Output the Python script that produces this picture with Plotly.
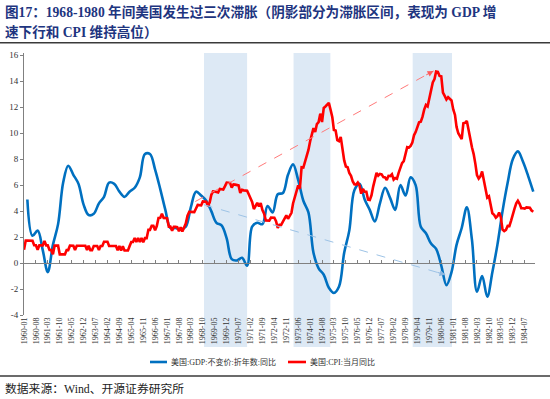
import plotly.graph_objects as go
import pandas as pd

# ---------------- data ----------------
# US CPI, month-on-year-ago (%), 1960-01 .. 1984-12
cpi_1960s = [
    1.03, 1.73, 1.73, 1.72, 1.72, 1.72, 1.37, 1.37, 1.02, 1.36, 1.36, 1.36,   # 1960
    1.71, 1.36, 1.36, 1.01, 1.01, 0.67, 1.34, 1.34, 1.34, 0.67, 0.67, 0.67,   # 1961
    0.67, 1.00, 1.00, 1.34, 1.33, 1.33, 1.00, 1.33, 1.33, 1.33, 1.33, 1.33,   # 1962
    1.33, 1.00, 1.33, 0.99, 0.99, 1.32, 1.32, 1.32, 1.00, 1.32, 1.32, 1.64,   # 1963
    1.64, 1.64, 1.31, 1.31, 1.31, 1.31, 1.31, 0.98, 1.31, 0.97, 1.29, 0.97,   # 1964
    0.97, 0.97, 1.29, 1.62, 1.62, 1.94, 1.62, 1.94, 1.62, 1.93, 1.61, 1.92,   # 1965
    1.92, 2.56, 2.56, 2.87, 2.87, 2.53, 2.85, 3.48, 3.49, 3.79, 3.48, 3.46,   # 1966
    3.46, 2.81, 2.81, 2.49, 2.79, 2.79, 2.77, 2.45, 2.75, 2.43, 2.74, 3.04,   # 1967
    3.65, 3.95, 3.94, 3.93, 3.92, 4.20, 4.48, 4.46, 4.45, 4.75, 4.74, 4.72,   # 1968
    4.40, 4.68, 5.25, 5.52, 5.51, 5.48, 5.44, 5.71, 5.70, 5.67, 5.93, 6.20,   # 1969
]
cpi_1970s = [
    6.18, 6.15, 5.82, 6.06, 6.04, 6.01, 5.98, 5.41, 5.64, 5.60, 5.57, 5.57,   # 1970
    5.28, 5.00, 4.71, 4.16, 4.40, 4.64, 4.36, 4.62, 4.08, 3.81, 3.28, 3.27,   # 1971
    3.27, 3.51, 3.50, 3.49, 3.23, 2.71, 2.95, 2.94, 3.19, 3.42, 3.67, 3.41,   # 1972
    3.65, 3.87, 4.59, 5.06, 5.53, 5.99, 5.73, 7.38, 7.36, 7.80, 8.25, 8.71,   # 1973
    9.39, 10.02, 10.39, 10.09, 10.71, 10.86, 11.51, 10.86, 11.95, 12.06, 12.20, 12.34,  # 1974
    11.80, 11.23, 10.25, 10.21, 9.47, 9.39, 9.72, 8.60, 7.91, 7.44, 7.38, 6.94,  # 1975
    6.72, 6.29, 6.07, 6.05, 6.20, 5.97, 5.35, 5.71, 5.50, 5.49, 4.88, 4.86,   # 1976
    5.22, 5.91, 6.44, 6.95, 6.73, 6.87, 6.83, 6.62, 6.60, 6.39, 6.72, 6.70,   # 1977
    6.84, 6.43, 6.55, 6.50, 6.95, 7.41, 7.70, 7.85, 8.31, 8.93, 8.89, 9.02,   # 1978
    9.28, 9.86, 10.09, 10.49, 10.85, 10.89, 11.26, 11.82, 12.18, 12.07, 12.61, 13.29,  # 1979
]
cpi_1980s = [
    13.91, 14.18, 14.76, 14.73, 14.41, 14.38, 13.13, 12.87, 12.60, 12.77, 12.65, 12.52,  # 1980
    11.83, 11.41, 10.49, 10.00, 9.78, 9.55, 10.76, 10.80, 10.95, 10.14, 9.59, 8.92,  # 1981
    8.39, 7.62, 6.78, 6.51, 6.68, 7.06, 6.44, 5.85, 5.04, 5.14, 4.59, 3.83,   # 1982
    3.71, 3.49, 3.60, 3.90, 3.55, 2.58, 2.46, 2.56, 2.86, 2.85, 3.27, 3.79,   # 1983
    4.19, 4.60, 4.80, 4.56, 4.23, 4.22, 4.20, 4.29, 4.27, 4.26, 4.05, 3.95,   # 1984
]
cpi_values = cpi_1960s + cpi_1970s + cpi_1980s

# US real GDP (constant prices, SAAR), y/y (%), quarterly 1960Q1 .. 1984Q4
gdp_values = [
    4.9, 2.1, 2.5, 1.0,      # 1960
    -0.7, 1.4, 3.0, 6.2,     # 1961
    7.5, 6.8, 6.1, 4.5,      # 1962
    3.7, 3.8, 4.6, 5.1,      # 1963
    6.2, 6.1, 5.5, 5.1,      # 1964
    5.5, 5.8, 6.6, 8.4,      # 1965
    8.4, 7.2, 5.7, 4.1,      # 1966
    2.7, 2.7, 2.6, 2.8,      # 1967
    4.3, 5.5, 5.2, 4.8,      # 1968
    4.0, 3.1, 2.9, 1.9,      # 1969
    0.3, 0.2, 0.4, -0.2,     # 1970
    2.8, 3.1, 3.0, 4.4,      # 1971
    3.9, 5.3, 5.4, 6.8,      # 1972
    7.6, 6.4, 4.8, 3.9,      # 1973
    0.8, -0.4, -0.9, -1.9,   # 1974
    -2.3, -1.8, 0.8, 2.5,    # 1975
    5.6, 6.1, 4.9, 4.1,      # 1976
    3.2, 4.6, 5.8, 5.0,      # 1977
    4.1, 6.0, 5.2, 6.6,      # 1978
    6.0, 2.8, 2.3, 1.5,      # 1979
    1.1, -0.2, -1.7, -0.7,   # 1980
    1.4, 2.7, 4.3, 1.8,      # 1981
    -2.2, -1.0, -2.6, -0.7,  # 1982
    1.4, 4.0, 6.2, 8.0,      # 1983
    8.6, 7.8, 6.7, 5.5,      # 1984
]

cpi_dates = pd.date_range("1960-01-01", periods=len(cpi_values), freq="MS")
gdp_dates = pd.date_range("1960-03-01", periods=len(gdp_values), freq="3MS")
tick_dates = pd.date_range("1960-01-01", "1984-12-01", freq="7MS")
tick_labels = [d.strftime("%Y-%m") for d in tick_dates]

y_ticks = [-4, -2, 0, 2, 4, 6, 8, 10, 12, 14, 16]
y_labels = ["-4", "-2", "0", "2", "4", "6", "8", "10", "12", "14", "16"]

# stagflation periods (shaded)
stag_periods = [("1968-10-22", "1970-12-01"),
                ("1973-03-10", "1974-12-28"),
                ("1979-01-07", "1980-12-10")]

# trend arrows: (start date, start value, end date, end value)
cpi_arrow = ("1968-05-19", 4.74, "1980-01-15", 14.8)
gdp_arrow = ("1968-10-16", 4.5, "1980-08-16", -0.9)

series_names = ["美国:GDP:不变价:折年数:同比", "美国:CPI:当月同比"]
title_line1 = "图17：1968-1980 年间美国发生过三次滞胀（阴影部分为滞胀区间，表现为 GDP 增"
title_line2 = "速下行和 CPI 维持高位）"
source_text = "数据来源：Wind、开源证券研究所"

# ---------------- layout geometry ----------------
W, H = 550, 399
L, R, T, B = 24, 15, 53, 84
PW, PH = W - L - R, H - T - B
Y_MIN = -4
Y_MAX = 16.18


def px(X):
    return (X - L) / PW


def py(Y):
    return (H - B - Y) / PH


SERIF = "Liberation Serif, Times New Roman, Noto Sans CJK SC, serif"
BLUE = "#0070C0"
RED = "#FF0000"
colors = [BLUE, RED]

fig = go.Figure()
fig.add_trace(go.Scatter(
    x=gdp_dates, y=gdp_values, name=series_names[0], mode="lines",
    line=dict(color=BLUE, width=2.6, shape="spline", smoothing=1.0),
    showlegend=False,
))
fig.add_trace(go.Scatter(
    x=cpi_dates, y=cpi_values, name=series_names[1], mode="lines",
    xaxis="x2",
    line=dict(color=RED, width=2.6),
    showlegend=False,
))

shapes = []
for s, e in stag_periods:
    shapes.append(dict(type="rect", xref="x", yref="paper", x0=s, x1=e,
                       y0=py(347), y1=1, fillcolor="#DDE9F5",
                       line=dict(width=0), layer="below"))

# dashed trend lines
for (sx, sy, ex, ey), col in [(cpi_arrow, "#FF7A7A"), (gdp_arrow, "#9DC3E6")]:
    shapes.append(dict(type="line", xref="x", yref="y", x0=sx, y0=sy,
                       x1=ex, y1=ey, line=dict(color=col, width=1, dash="dash")))

# rules
shapes.append(dict(type="line", xref="paper", yref="paper", x0=px(0), x1=px(550),
                   y0=py(42.7), y1=py(42.7), line=dict(color="#3A3A3A", width=1.5)))
shapes.append(dict(type="line", xref="paper", yref="paper", x0=px(0), x1=px(550),
                   y0=py(376), y1=py(376), line=dict(color="#3A3A3A", width=1.5)))

annotations = [
    dict(text=title_line1, xref="paper", yref="paper", x=px(3), y=py(11.7),
         xanchor="left", yanchor="middle", showarrow=False,
         font=dict(family=SERIF, size=13.6, color="#1E3580", weight="bold")),
    dict(text=title_line2, xref="paper", yref="paper", x=px(3), y=py(32.3),
         xanchor="left", yanchor="middle", showarrow=False,
         font=dict(family=SERIF, size=13.6, color="#1E3580", weight="bold")),
    dict(text=source_text, xref="paper", yref="paper", x=px(3), y=py(389),
         xanchor="left", yanchor="middle", showarrow=False,
         font=dict(family=SERIF, size=11.8, color="#222222")),
    # arrow heads
    dict(x=cpi_arrow[2], y=cpi_arrow[3], xref="x", yref="y", text="",
         showarrow=True, arrowhead=2, arrowsize=1.2, arrowwidth=1,
         arrowcolor="#FF5A5A", ax=-8.8, ay=4.8, standoff=0),
    dict(x=gdp_arrow[2], y=gdp_arrow[3], xref="x", yref="y", text="",
         showarrow=True, arrowhead=2, arrowsize=1.2, arrowwidth=1,
         arrowcolor="#8DB7E0", ax=-9.6, ay=-2.8, standoff=0),
]

# legend (drawn to match the compact symbol size of the original)
legend_items = [(150, 167, 169), (288, 306, 308)]  # line x0, line x1, text x (px)
LEG_Y = 362
for (lx0, lx1, tx), name, col in zip(legend_items, series_names, colors):
    shapes.append(dict(type="line", xref="paper", yref="paper", x0=px(lx0), x1=px(lx1),
                       y0=py(LEG_Y), y1=py(LEG_Y), line=dict(color=col, width=2.6)))
    annotations.append(dict(text=name, xref="paper", yref="paper", x=px(tx), y=py(LEG_Y),
                            xanchor="left", yanchor="middle", showarrow=False,
                            font=dict(family=SERIF, size=8, color="#333333")))

x_range = ["1960-01-01", "1985-01-01"]

fig.update_layout(
    width=W, height=H,
    margin=dict(l=L, r=R, t=T, b=B, pad=0, autoexpand=False),
    paper_bgcolor="white", plot_bgcolor="white",
    font=dict(family=SERIF, size=9, color="#333333"),
    showlegend=False,
    xaxis=dict(type="date", range=x_range, tickvals=tick_dates, ticktext=tick_labels,
               tickangle=-90, ticks="", showline=False, showgrid=False, zeroline=False,
               automargin=False,
               tickfont=dict(family=SERIF, size=8, color="#333333")),
    xaxis2=dict(type="date", range=x_range, overlaying="x", anchor="free",
                position=(0 - Y_MIN) / (Y_MAX - Y_MIN),
                tickvals=tick_dates, showticklabels=False, ticks="inside", ticklen=3,
                tickcolor="#808080", showline=True, linecolor="#808080", linewidth=1,
                showgrid=False, zeroline=False, automargin=False),
    yaxis=dict(range=[Y_MIN, Y_MAX], tickvals=y_ticks, ticktext=y_labels,
               showline=True, linecolor="#808080", linewidth=1, ticks="outside",
               ticklen=3, tickcolor="#808080", showgrid=False, zeroline=False,
               automargin=False,
               tickfont=dict(family=SERIF, size=9, color="#333333")),
    shapes=shapes,
    annotations=annotations,
)

fig.write_html(
    "out.html",
    config={"displayModeBar": False},
    post_script="document.body.style.margin='0';document.body.style.padding='0';",
)
